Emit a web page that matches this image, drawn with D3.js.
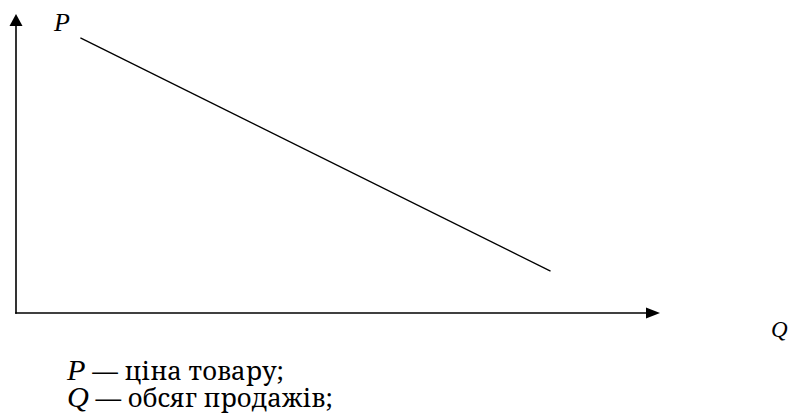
<!DOCTYPE html>
<html>
  <head>
    <meta charset="utf-8">
    <style>
      html,
      body {
        margin: 0;
        padding: 0;
        background: #fff;
      }
    </style>
  </head>
  <body>
    <div id="viz"></div>
    <script src="https://d3js.org/d3.v7.min.js"></script>
    <script>
      const width = 794;
      const height = 416;
      const varFont = "Liberation Serif, Times New Roman, serif";
      const textFont = "Noto Serif, Liberation Serif, serif";

      // demand curve (Q, P in axis units 0..100)
      const demandQ = [10, 83];
      const demandP = [92, 14];
      const axisLabels = ["P", "Q"];
      const legendVars = ["P", "Q"];
      const legendTexts = ["ціна товару;", "обсяг продажів;"];

      const x = d3.scaleLinear().domain([0, 100]).range([16, 660]);
      const y = d3.scaleLinear().domain([0, 100]).range([313, 14]);

      const svg = d3
        .select("#viz")
        .append("svg")
        .attr("width", width)
        .attr("height", height);

      // axes
      svg
        .append("line")
        .attr("x1", x(0))
        .attr("y1", y(0) + 0.8)
        .attr("x2", x(0))
        .attr("y2", y(100) + 10)
        .attr("stroke", "#000")
        .attr("stroke-width", 1.6);
      svg
        .append("line")
        .attr("x1", x(0) - 0.8)
        .attr("y1", y(0))
        .attr("x2", x(100) - 12)
        .attr("y2", y(0))
        .attr("stroke", "#000")
        .attr("stroke-width", 1.6);

      // arrow heads
      svg
        .append("path")
        .attr("d", `M${x(0)},${y(100)} L${x(0) - 6.5},${y(100) + 12} L${x(0) + 6.5},${y(100) + 12} Z`)
        .attr("fill", "#000");
      svg
        .append("path")
        .attr("d", `M${x(100)},${y(0)} L${x(100) - 14},${y(0) - 5.5} L${x(100) - 14},${y(0) + 5.5} Z`)
        .attr("fill", "#000");

      // demand line
      const pts = demandQ.map((q, i) => ({ q: q, p: demandP[i] }));
      const line = d3
        .line()
        .x((d) => x(d.q))
        .y((d) => y(d.p));
      svg
        .append("path")
        .attr("d", line(pts))
        .attr("fill", "none")
        .attr("stroke", "#000")
        .attr("stroke-width", 1.3);

      // axis labels
      svg
        .append("text")
        .attr("font-family", varFont)
        .attr("font-style", "italic")
        .attr("x", 54)
        .attr("y", 31)
        .attr("font-size", 26)
        .text(axisLabels[0]);
      svg
        .append("text")
        .attr("font-family", varFont)
        .attr("font-style", "italic")
        .attr("x", 771)
        .attr("y", 337)
        .attr("font-size", 23)
        .text(axisLabels[1]);

      // legend
      const lg = svg
        .selectAll("text.lg")
        .data(legendVars)
        .enter()
        .append("text")
        .attr("class", "lg")
        .attr("x", 67)
        .attr("y", (d, i) => 380 + i * 27)
        .attr("font-size", 22);
      lg.append("tspan")
        .attr("font-family", varFont)
        .attr("font-style", "italic")
        .attr("font-size", 26)
        .text((d) => d);
      lg.append("tspan")
        .attr("font-family", textFont)
        .text((d, i) => " — " + legendTexts[i]);

      // fit the first line to its width in the picture (67 -> 284)
      const w0 = lg.node().getComputedTextLength();
      const k = 217 / w0;
      lg.attr("font-size", 22 * k);
      lg.selectAll("tspan:first-child").attr("font-size", 26 * k);
    </script>
  </body>
</html>
